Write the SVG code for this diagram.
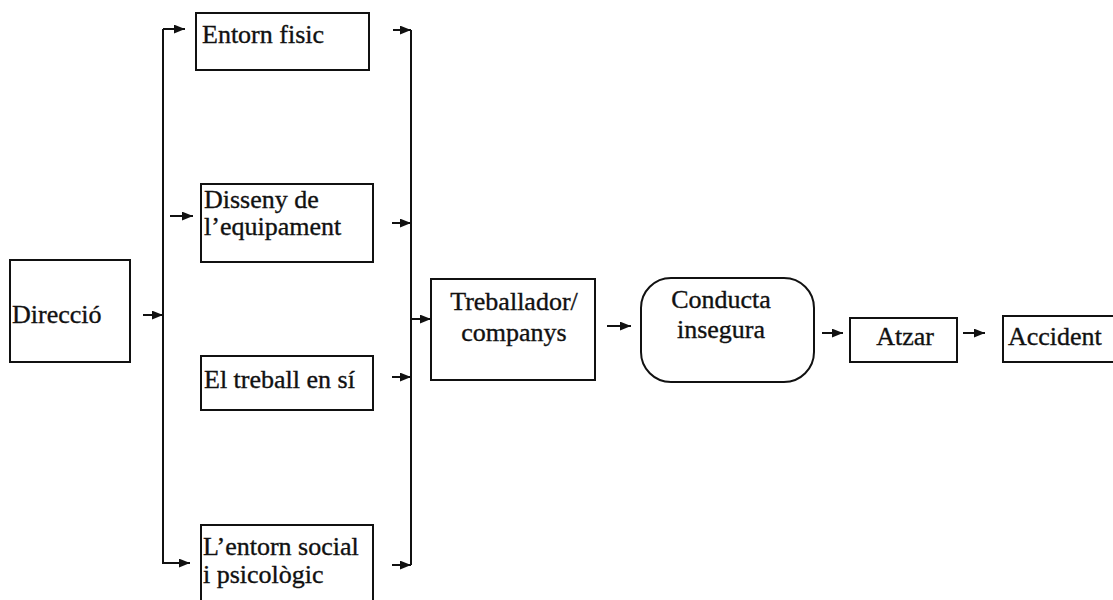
<svg xmlns="http://www.w3.org/2000/svg" width="1113" height="600" viewBox="0 0 1113 600">
  <style>
    .box { fill: #fff; stroke: #111; stroke-width: 2; }
    .lbl { font-family: "Liberation Serif", "Times New Roman", serif; font-size: 26px; fill: #111; stroke: #111; stroke-width: 0.35; }
    .mid { text-anchor: middle; }
    .wire { fill: none; stroke: #111; stroke-width: 2; }
  </style>
  <defs>
    <marker id="ah" viewBox="0 0 10 8" refX="10" refY="4" markerWidth="11" markerHeight="9" markerUnits="userSpaceOnUse" orient="auto">
      <path d="M0,0 L10,4 L0,8 Z" fill="#111"/>
    </marker>
  </defs>
  <rect width="1113" height="600" fill="#fff"/>

  <g id="connectors">
    <!-- left distribution bus -->
    <path class="wire" d="M163,29 V563 H190" marker-end="url(#ah)"/>
    <path class="wire" d="M163,29 H185" marker-end="url(#ah)"/>
    <path class="wire" d="M143,315 H163" marker-end="url(#ah)"/>
    <path class="wire" d="M170,216 H193" marker-end="url(#ah)"/>
    <!-- right collecting bus -->
    <path class="wire" d="M411,30 V565"/>
    <path class="wire" d="M393,30 H411" marker-end="url(#ah)"/>
    <path class="wire" d="M392,223 H411" marker-end="url(#ah)"/>
    <path class="wire" d="M392,377 H411" marker-end="url(#ah)"/>
    <path class="wire" d="M392,565 H411" marker-end="url(#ah)"/>
    <path class="wire" d="M411,319 H431" marker-end="url(#ah)"/>
    <!-- main chain -->
    <path class="wire" d="M607,326 H631" marker-end="url(#ah)"/>
    <path class="wire" d="M822,333 H843" marker-end="url(#ah)"/>
    <path class="wire" d="M963,333 H985" marker-end="url(#ah)"/>
  </g>

  <g id="direccio">
    <rect class="box" x="10" y="260" width="120" height="102"/>
    <text class="lbl" x="12" y="323">Direcció</text>
  </g>

  <g id="entorn-fisic">
    <rect class="box" x="196" y="13" width="173" height="57"/>
    <text class="lbl" x="202" y="43">Entorn fisic</text>
  </g>

  <g id="disseny">
    <rect class="box" x="201" y="184" width="172" height="78"/>
    <text class="lbl" x="204" y="208">Disseny de</text>
    <text class="lbl" x="204" y="235">l’equipament</text>
  </g>

  <g id="treball">
    <rect class="box" x="201" y="356" width="172" height="54"/>
    <text class="lbl" x="204" y="388">El treball en sí</text>
  </g>

  <g id="entorn-social">
    <rect class="box" x="201" y="525" width="172" height="85"/>
    <text class="lbl" x="203" y="555">L’entorn social</text>
    <text class="lbl" x="203" y="583">i psicològic</text>
  </g>

  <g id="treballador">
    <rect class="box" x="431" y="279" width="164" height="101"/>
    <text class="lbl mid" x="514" y="310">Treballador/</text>
    <text class="lbl mid" x="514" y="341">companys</text>
  </g>

  <g id="conducta">
    <rect class="box" x="641" y="278" width="173" height="104" rx="30" ry="30"/>
    <text class="lbl mid" x="721" y="308">Conducta</text>
    <text class="lbl mid" x="721" y="338">insegura</text>
  </g>

  <g id="atzar">
    <rect class="box" x="850" y="318" width="107" height="44"/>
    <text class="lbl mid" x="905" y="345">Atzar</text>
  </g>

  <g id="accident">
    <rect class="box" x="1003" y="316" width="120" height="46"/>
    <text class="lbl" x="1008" y="345">Accident</text>
  </g>
</svg>
